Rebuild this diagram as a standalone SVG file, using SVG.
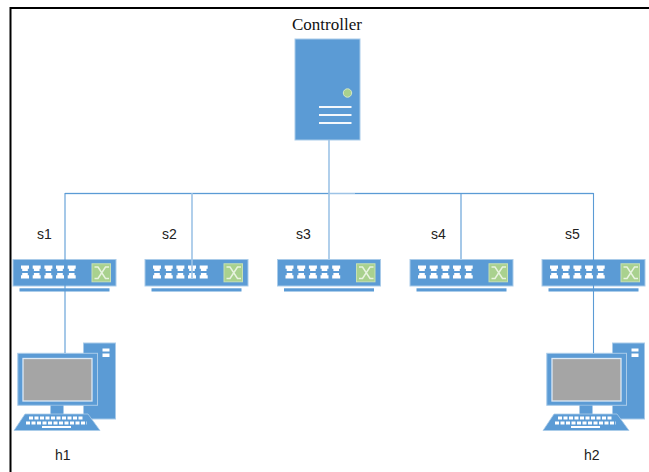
<svg xmlns="http://www.w3.org/2000/svg" width="649" height="472" viewBox="0 0 649 472">
<style>
.l{font-family:"Liberation Sans",Arial,sans-serif;font-size:14px;fill:#222}
.c{font-family:"Liberation Serif","Times New Roman",serif;font-size:17px;fill:#111}
.b{fill:#5b9bd5;stroke:#a9cbe9;stroke-width:1}
.f{fill:#5b9bd5}
.w{fill:#fff}
.wl{stroke:#f4f8fc;stroke-width:2.200;fill:none}
.link{stroke:#5b9bd5;stroke-width:1.100;fill:none}
.link2{stroke:#9dc3e6;stroke-width:1.600;fill:none}
</style>
<defs>
<g id="port"><path class="w" d="M0 0h8v3.300h-1.200v2.200h-5.600v-2.200h-1.200z"/><path class="w" d="M0 13h8v-3.300h-1.200v-2.200h-5.600v2.200h-1.200z"/></g>
<g id="sw">
<rect class="b" x="0" y="0.500" width="103" height="26.500"/>
<use href="#port" x="8" y="6.500"/><use href="#port" x="19.700" y="6.500"/><use href="#port" x="31.400" y="6.500"/><use href="#port" x="43" y="6.500"/><use href="#port" x="54.700" y="6.500"/>
<rect x="79" y="4.800" width="18.500" height="18" fill="#a9d18e" stroke="#c5e0b4" stroke-width="1"/>
<path d="M81.500 8h3.500l7.500 11.500h3.500M81.500 19.500h3.500l7.500-11.500h3.500" fill="none" stroke="#e8f3e0" stroke-width="1.500"/>
<rect class="f" x="6.500" y="29.300" width="90" height="3.200"/>
</g>
<g id="pc">
<rect class="b" x="83.500" y="343" width="32" height="76"/>
<rect class="w" x="102.500" y="348.500" width="7" height="3"/><rect class="w" x="102.500" y="353.500" width="7" height="3.500"/>
<rect class="f" x="17.800" y="353.300" width="79.700" height="52" stroke="#a9cbe9"/>
<rect x="23" y="358.500" width="69" height="42.500" fill="#a5a5a5" stroke="#dce9f5" stroke-width="1.300"/>
<rect class="f" x="50.500" y="405.500" width="13" height="8.500"/>
<polygon class="f" points="14,430.500 25,414 88,414 100,430.500" stroke="#a9cbe9" stroke-width="0.800"/>
<path d="M29 418h55" stroke="#fff" stroke-width="2.800" stroke-dasharray="4 1.500" fill="none"/>
<path d="M26 423h61" stroke="#fff" stroke-width="2.800" stroke-dasharray="4 1.500" fill="none"/>
<rect class="w" x="42" y="426" width="29" height="2"/>
</g>
</defs>
<rect width="649" height="472" fill="#fff"/>
<path d="M10.500 472V8H649" fill="none" stroke="#000" stroke-width="2"/>
<g id="controller">
<rect class="b" x="295" y="39" width="65" height="101"/>
<circle cx="347.500" cy="93" r="4.200" fill="#a9d18e" stroke="#d5e8c8"/>
<path class="wl" d="M319 107h32.500M319 115h32.500M319 123h32.500"/>
<text class="c" x="292" y="29.500">Controller</text>
</g>
<g id="s1"><use href="#sw" x="13" y="259"/><text class="l" x="37" y="239">s1</text></g>
<g id="s2"><use href="#sw" x="145" y="259"/><text class="l" x="162" y="239">s2</text></g>
<g id="s3"><use href="#sw" x="277.500" y="259"/><text class="l" x="296" y="239">s3</text></g>
<g id="s4"><use href="#sw" x="410" y="259"/><text class="l" x="431" y="239">s4</text></g>
<g id="s5"><use href="#sw" x="542" y="259"/><text class="l" x="565" y="239">s5</text></g>
<g id="h1"><use href="#pc"/><text class="l" x="55" y="460">h1</text></g>
<g id="h2"><use href="#pc" x="529"/><text class="l" x="584" y="460">h2</text></g>
<g id="connectors">
<path class="link2" d="M65 193.500H593.500"/>
<path class="link" d="M65 193.500H329M355 193.500H593.500"/>
<path class="link2" d="M329 140V259"/>
<path class="link" d="M65 193V353"/>
<path class="link2" d="M192 193V278"/>
<path class="link" d="M461 193V259"/>
<path class="link" d="M593.500 193V353"/>
</g>
</svg>
